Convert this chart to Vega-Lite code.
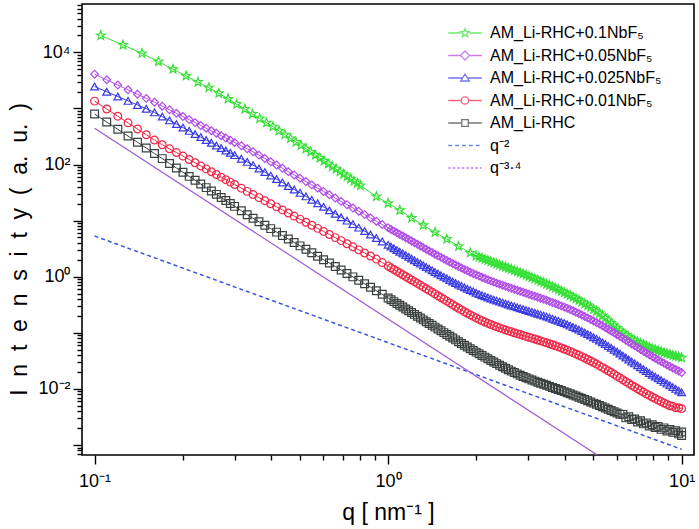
{
"$schema": "https://vega.github.io/schema/vega-lite/v6.json",
"width": 612, "height": 451,
"autosize": {"type": "none"},
"padding": {"left": 82, "top": 4, "right": 5, "bottom": 74},
"background": "white",
"config": {"view": {"stroke": "black", "strokeWidth": 1.6}, "font": "Liberation Sans"},
"datasets": {
"curves": [
{"s":"g","q":0.105,"I":19950},{"s":"g","q":0.125,"I":13490},{"s":"g","q":0.145,"I":9550},{"s":"g","q":0.165,"I":6839},{"s":"g","q":0.185,"I":5012},{"s":"g","q":0.205,"I":3802},{"s":"g","q":0.225,"I":2951},{"s":"g","q":0.245,"I":2344},{"s":"g","q":0.265,"I":1862},{"s":"g","q":0.285,"I":1479},{"s":"g","q":0.305,"I":1189},{"s":"g","q":0.325,"I":977.2},{"s":"g","q":0.345,"I":794.3},{"s":"g","q":0.365,"I":660.7},{"s":"g","q":0.385,"I":555.9},{"s":"g","q":0.405,"I":473.2},{"s":"g","q":0.425,"I":399.9},{"s":"g","q":0.445,"I":340.4},{"s":"g","q":0.465,"I":291.7},{"s":"g","q":0.485,"I":251.8},{"s":"g","q":0.505,"I":218.8},{"s":"g","q":0.525,"I":191.0},{"s":"g","q":0.545,"I":167.5},{"s":"g","q":0.565,"I":147.6},{"s":"g","q":0.585,"I":130.6},{"s":"g","q":0.605,"I":116.1},{"s":"g","q":0.625,"I":102.8},{"s":"g","q":0.645,"I":92.04},{"s":"g","q":0.665,"I":82.79},{"s":"g","q":0.685,"I":74.47},{"s":"g","q":0.705,"I":67.30},{"s":"g","q":0.725,"I":61.09},{"s":"g","q":0.745,"I":55.46},{"s":"g","q":0.765,"I":50.47},{"s":"g","q":0.785,"I":46.13},{"s":"g","q":0.805,"I":42.27},
{"s":"g","q":0.912,"I":26.92},{"s":"g","q":1.0,"I":20.42},{"s":"g","q":1.096,"I":15.31},{"s":"g","q":1.202,"I":11.19},{"s":"g","q":1.318,"I":8.279},{"s":"g","q":1.445,"I":6.166},{"s":"g","q":1.585,"I":4.677},{"s":"g","q":1.738,"I":3.491},{"s":"g","q":1.905,"I":2.661},
{"s":"g","q":1.995,"I":2.344},{"s":"g","q":2.042,"I":2.239},{"s":"g","q":2.089,"I":2.138},{"s":"g","q":2.138,"I":2.042},{"s":"g","q":2.188,"I":1.950},{"s":"g","q":2.239,"I":1.862},{"s":"g","q":2.291,"I":1.778},{"s":"g","q":2.344,"I":1.698},{"s":"g","q":2.399,"I":1.622},{"s":"g","q":2.455,"I":1.549},{"s":"g","q":2.512,"I":1.479},{"s":"g","q":2.570,"I":1.413},{"s":"g","q":2.630,"I":1.349},{"s":"g","q":2.692,"I":1.288},{"s":"g","q":2.754,"I":1.230},{"s":"g","q":2.818,"I":1.175},{"s":"g","q":2.884,"I":1.122},{"s":"g","q":2.951,"I":1.069},{"s":"g","q":3.020,"I":1.017},{"s":"g","q":3.090,"I":0.9672},{"s":"g","q":3.162,"I":0.9183},{"s":"g","q":3.236,"I":0.8710},{"s":"g","q":3.311,"I":0.8260},{"s":"g","q":3.388,"I":0.7825},{"s":"g","q":3.467,"I":0.7405},{"s":"g","q":3.548,"I":0.7006},{"s":"g","q":3.631,"I":0.6622},{"s":"g","q":3.715,"I":0.6252},{"s":"g","q":3.802,"I":0.5895},{"s":"g","q":3.890,"I":0.5553},{"s":"g","q":3.981,"I":0.5230},{"s":"g","q":4.074,"I":0.4915},{"s":"g","q":4.169,"I":0.4619},{"s":"g","q":4.266,"I":0.4330},{"s":"g","q":4.365,"I":0.4055},{"s":"g","q":4.467,"I":0.3793},{"s":"g","q":4.571,"I":0.3540},{"s":"g","q":4.677,"I":0.3296},{"s":"g","q":4.786,"I":0.3062},{"s":"g","q":4.898,"I":0.2838},{"s":"g","q":5.012,"I":0.2624},{"s":"g","q":5.129,"I":0.2415},{"s":"g","q":5.248,"I":0.2213},{"s":"g","q":5.370,"I":0.2018},{"s":"g","q":5.495,"I":0.1832},{"s":"g","q":5.623,"I":0.1658},{"s":"g","q":5.754,"I":0.1496},{"s":"g","q":5.888,"I":0.1351},{"s":"g","q":6.026,"I":0.1220},{"s":"g","q":6.166,"I":0.1105},{"s":"g","q":6.310,"I":0.1006},{"s":"g","q":6.457,"I":0.09194},{"s":"g","q":6.607,"I":0.08464},{"s":"g","q":6.761,"I":0.07845},{"s":"g","q":6.918,"I":0.07320},{"s":"g","q":7.079,"I":0.06863},{"s":"g","q":7.244,"I":0.06464},{"s":"g","q":7.413,"I":0.06109},{"s":"g","q":7.586,"I":0.05794},{"s":"g","q":7.762,"I":0.05508},{"s":"g","q":7.943,"I":0.05248},{"s":"g","q":8.128,"I":0.05012},{"s":"g","q":8.318,"I":0.04797},{"s":"g","q":8.511,"I":0.04603},{"s":"g","q":8.710,"I":0.04426},{"s":"g","q":8.913,"I":0.04266},{"s":"g","q":9.120,"I":0.04116},{"s":"g","q":9.333,"I":0.03977},{"s":"g","q":9.550,"I":0.03846},{"s":"g","q":9.772,"I":0.03724},{"s":"g","q":10.0,"I":0.03610},
{"s":"p","q":0.10,"I":4074},{"s":"p","q":0.11,"I":3228},{"s":"p","q":0.12,"I":2606},{"s":"p","q":0.13,"I":2143},{"s":"p","q":0.14,"I":1786},{"s":"p","q":0.15,"I":1510},{"s":"p","q":0.16,"I":1285},{"s":"p","q":0.17,"I":1096},{"s":"p","q":0.18,"I":944.1},{"s":"p","q":0.19,"I":818.5},{"s":"p","q":0.20,"I":716.1},{"s":"p","q":0.21,"I":631.0},{"s":"p","q":0.22,"I":558.5},{"s":"p","q":0.23,"I":496.6},{"s":"p","q":0.24,"I":444.6},{"s":"p","q":0.25,"I":399.0},{"s":"p","q":0.26,"I":360.6},{"s":"p","q":0.27,"I":326.6},{"s":"p","q":0.28,"I":296.5},{"s":"p","q":0.29,"I":270.4},{"s":"p","q":0.30,"I":247.7},
{"s":"p","q":0.3162,"I":215.8},{"s":"p","q":0.3311,"I":191.0},{"s":"p","q":0.3467,"I":168.3},{"s":"p","q":0.3631,"I":146.9},{"s":"p","q":0.3802,"I":128.2},{"s":"p","q":0.3981,"I":111.9},{"s":"p","q":0.4169,"I":97.95},{"s":"p","q":0.4365,"I":85.51},{"s":"p","q":0.4571,"I":74.64},{"s":"p","q":0.4786,"I":65.16},{"s":"p","q":0.5012,"I":56.89},{"s":"p","q":0.5248,"I":49.66},{"s":"p","q":0.5495,"I":43.35},{"s":"p","q":0.5754,"I":37.93},{"s":"p","q":0.6026,"I":33.11},{"s":"p","q":0.6310,"I":28.91},{"s":"p","q":0.6607,"I":25.23},{"s":"p","q":0.6918,"I":22.03},{"s":"p","q":0.7244,"I":19.23},{"s":"p","q":0.7586,"I":16.79},{"s":"p","q":0.7943,"I":14.69},{"s":"p","q":0.8318,"I":12.82},{"s":"p","q":0.8710,"I":11.19},{"s":"p","q":0.9120,"I":9.772},{"s":"p","q":0.9550,"I":8.531},
{"s":"p","q":1.0,"I":7.447},{"s":"p","q":1.023,"I":6.958},{"s":"p","q":1.047,"I":6.501},{"s":"p","q":1.072,"I":6.075},{"s":"p","q":1.096,"I":5.675},{"s":"p","q":1.122,"I":5.303},{"s":"p","q":1.148,"I":4.955},{"s":"p","q":1.175,"I":4.629},{"s":"p","q":1.202,"I":4.325},{"s":"p","q":1.230,"I":4.041},{"s":"p","q":1.259,"I":3.776},{"s":"p","q":1.288,"I":3.527},{"s":"p","q":1.318,"I":3.296},{"s":"p","q":1.349,"I":3.083},{"s":"p","q":1.380,"I":2.884},{"s":"p","q":1.413,"I":2.698},{"s":"p","q":1.445,"I":2.523},{"s":"p","q":1.479,"I":2.363},{"s":"p","q":1.514,"I":2.213},{"s":"p","q":1.549,"I":2.075},{"s":"p","q":1.585,"I":1.945},{"s":"p","q":1.622,"I":1.826},{"s":"p","q":1.660,"I":1.714},{"s":"p","q":1.698,"I":1.613},{"s":"p","q":1.738,"I":1.517},{"s":"p","q":1.778,"I":1.431},{"s":"p","q":1.820,"I":1.349},{"s":"p","q":1.862,"I":1.275},{"s":"p","q":1.905,"I":1.205},{"s":"p","q":1.950,"I":1.142},{"s":"p","q":1.995,"I":1.081},{"s":"p","q":2.042,"I":1.027},{"s":"p","q":2.089,"I":0.9750},{"s":"p","q":2.138,"I":0.9279},{"s":"p","q":2.188,"I":0.8831},{"s":"p","q":2.239,"I":0.8424},{"s":"p","q":2.291,"I":0.8035},{"s":"p","q":2.344,"I":0.7682},{"s":"p","q":2.399,"I":0.7345},{"s":"p","q":2.455,"I":0.7038},{"s":"p","q":2.512,"I":0.6745},{"s":"p","q":2.570,"I":0.6471},{"s":"p","q":2.630,"I":0.6209},{"s":"p","q":2.692,"I":0.5957},{"s":"p","q":2.754,"I":0.5715},{"s":"p","q":2.818,"I":0.5489},{"s":"p","q":2.884,"I":0.5272},{"s":"p","q":2.951,"I":0.5064},{"s":"p","q":3.020,"I":0.4864},{"s":"p","q":3.090,"I":0.4672},{"s":"p","q":3.162,"I":0.4487},{"s":"p","q":3.236,"I":0.4305},{"s":"p","q":3.311,"I":0.4130},{"s":"p","q":3.388,"I":0.3958},{"s":"p","q":3.467,"I":0.3793},{"s":"p","q":3.548,"I":0.3631},{"s":"p","q":3.631,"I":0.3475},{"s":"p","q":3.715,"I":0.3319},{"s":"p","q":3.802,"I":0.3170},{"s":"p","q":3.890,"I":0.3020},{"s":"p","q":3.981,"I":0.2877},{"s":"p","q":4.074,"I":0.2735},{"s":"p","q":4.169,"I":0.2600},{"s":"p","q":4.266,"I":0.2464},{"s":"p","q":4.365,"I":0.2333},{"s":"p","q":4.467,"I":0.2203},{"s":"p","q":4.571,"I":0.2080},{"s":"p","q":4.677,"I":0.1959},{"s":"p","q":4.786,"I":0.1845},{"s":"p","q":4.898,"I":0.1734},{"s":"p","q":5.012,"I":0.1629},{"s":"p","q":5.129,"I":0.1526},{"s":"p","q":5.248,"I":0.1429},{"s":"p","q":5.370,"I":0.1334},{"s":"p","q":5.495,"I":0.1245},{"s":"p","q":5.623,"I":0.1157},{"s":"p","q":5.754,"I":0.1076},{"s":"p","q":5.888,"I":0.09988},{"s":"p","q":6.026,"I":0.09268},{"s":"p","q":6.166,"I":0.08590},{"s":"p","q":6.310,"I":0.07962},{"s":"p","q":6.457,"I":0.07379},{"s":"p","q":6.607,"I":0.06839},{"s":"p","q":6.761,"I":0.06339},{"s":"p","q":6.918,"I":0.05875},{"s":"p","q":7.079,"I":0.05451},{"s":"p","q":7.244,"I":0.05058},{"s":"p","q":7.413,"I":0.04699},{"s":"p","q":7.586,"I":0.04365},{"s":"p","q":7.762,"I":0.04060},{"s":"p","q":7.943,"I":0.03776},{"s":"p","q":8.128,"I":0.03519},{"s":"p","q":8.318,"I":0.03281},{"s":"p","q":8.511,"I":0.03066},{"s":"p","q":8.710,"I":0.02864},{"s":"p","q":8.913,"I":0.02682},{"s":"p","q":9.120,"I":0.02512},{"s":"p","q":9.333,"I":0.02358},{"s":"p","q":9.550,"I":0.02213},{"s":"p","q":9.772,"I":0.02082},{"s":"p","q":10.0,"I":0.01959},
{"s":"b","q":0.10,"I":2455},{"s":"b","q":0.11,"I":1982},{"s":"b","q":0.12,"I":1629},{"s":"b","q":0.13,"I":1361},{"s":"b","q":0.14,"I":1151},{"s":"b","q":0.15,"I":986.3},{"s":"b","q":0.16,"I":849.2},{"s":"b","q":0.17,"I":716.1},{"s":"b","q":0.18,"I":610.9},{"s":"b","q":0.19,"I":524.8},{"s":"b","q":0.20,"I":455.0},{"s":"b","q":0.21,"I":397.2},{"s":"b","q":0.22,"I":349.1},{"s":"b","q":0.23,"I":308.3},{"s":"b","q":0.24,"I":273.5},{"s":"b","q":0.25,"I":244.3},{"s":"b","q":0.26,"I":218.8},{"s":"b","q":0.27,"I":196.8},{"s":"b","q":0.28,"I":177.8},{"s":"b","q":0.29,"I":161.4},{"s":"b","q":0.30,"I":146.9},
{"s":"b","q":0.3162,"I":126.8},{"s":"b","q":0.3311,"I":111.4},{"s":"b","q":0.3467,"I":97.50},{"s":"b","q":0.3631,"I":84.53},{"s":"b","q":0.3802,"I":73.28},{"s":"b","q":0.3981,"I":63.53},{"s":"b","q":0.4169,"I":55.08},{"s":"b","q":0.4365,"I":47.75},{"s":"b","q":0.4571,"I":41.40},{"s":"b","q":0.4786,"I":35.89},{"s":"b","q":0.5012,"I":31.19},{"s":"b","q":0.5248,"I":27.04},{"s":"b","q":0.5495,"I":23.44},{"s":"b","q":0.5754,"I":20.32},{"s":"b","q":0.6026,"I":17.62},{"s":"b","q":0.6310,"I":15.28},{"s":"b","q":0.6607,"I":13.24},{"s":"b","q":0.6918,"I":11.48},{"s":"b","q":0.7244,"I":9.977},{"s":"b","q":0.7586,"I":8.650},{"s":"b","q":0.7943,"I":7.499},{"s":"b","q":0.8318,"I":6.501},{"s":"b","q":0.8710,"I":5.649},{"s":"b","q":0.9120,"I":4.898},{"s":"b","q":0.9550,"I":4.256},
{"s":"b","q":1.0,"I":3.698},{"s":"b","q":1.023,"I":3.447},{"s":"b","q":1.047,"I":3.214},{"s":"b","q":1.072,"I":2.996},{"s":"b","q":1.096,"I":2.793},{"s":"b","q":1.122,"I":2.603},{"s":"b","q":1.148,"I":2.427},{"s":"b","q":1.175,"I":2.262},{"s":"b","q":1.202,"I":2.109},{"s":"b","q":1.230,"I":1.966},{"s":"b","q":1.259,"I":1.832},{"s":"b","q":1.288,"I":1.710},{"s":"b","q":1.318,"I":1.596},{"s":"b","q":1.349,"I":1.491},{"s":"b","q":1.380,"I":1.393},{"s":"b","q":1.413,"I":1.301},{"s":"b","q":1.445,"I":1.216},{"s":"b","q":1.479,"I":1.138},{"s":"b","q":1.514,"I":1.064},{"s":"b","q":1.549,"I":0.9966},{"s":"b","q":1.585,"I":0.9333},{"s":"b","q":1.622,"I":0.8761},{"s":"b","q":1.660,"I":0.8222},{"s":"b","q":1.698,"I":0.7735},{"s":"b","q":1.738,"I":0.7278},{"s":"b","q":1.778,"I":0.6863},{"s":"b","q":1.820,"I":0.6471},{"s":"b","q":1.862,"I":0.6117},{"s":"b","q":1.905,"I":0.5781},{"s":"b","q":1.950,"I":0.5476},{"s":"b","q":1.995,"I":0.5188},{"s":"b","q":2.042,"I":0.4932},{"s":"b","q":2.089,"I":0.4688},{"s":"b","q":2.138,"I":0.4472},{"s":"b","q":2.188,"I":0.4266},{"s":"b","q":2.239,"I":0.4083},{"s":"b","q":2.291,"I":0.3908},{"s":"b","q":2.344,"I":0.3750},{"s":"b","q":2.399,"I":0.3597},{"s":"b","q":2.455,"I":0.3456},{"s":"b","q":2.512,"I":0.3319},{"s":"b","q":2.570,"I":0.3196},{"s":"b","q":2.630,"I":0.3076},{"s":"b","q":2.692,"I":0.2961},{"s":"b","q":2.754,"I":0.2851},{"s":"b","q":2.818,"I":0.2748},{"s":"b","q":2.884,"I":0.2649},{"s":"b","q":2.951,"I":0.2550},{"s":"b","q":3.020,"I":0.2455},{"s":"b","q":3.090,"I":0.2366},{"s":"b","q":3.162,"I":0.2280},{"s":"b","q":3.236,"I":0.2193},{"s":"b","q":3.311,"I":0.2109},{"s":"b","q":3.388,"I":0.2026},{"s":"b","q":3.467,"I":0.1945},{"s":"b","q":3.548,"I":0.1864},{"s":"b","q":3.631,"I":0.1786},{"s":"b","q":3.715,"I":0.1708},{"s":"b","q":3.802,"I":0.1633},{"s":"b","q":3.890,"I":0.1558},{"s":"b","q":3.981,"I":0.1486},{"s":"b","q":4.074,"I":0.1413},{"s":"b","q":4.169,"I":0.1343},{"s":"b","q":4.266,"I":0.1272},{"s":"b","q":4.365,"I":0.1205},{"s":"b","q":4.467,"I":0.1138},{"s":"b","q":4.571,"I":0.1074},{"s":"b","q":4.677,"I":0.1010},{"s":"b","q":4.786,"I":0.09506},{"s":"b","q":4.898,"I":0.08913},{"s":"b","q":5.012,"I":0.08356},{"s":"b","q":5.129,"I":0.07798},{"s":"b","q":5.248,"I":0.07278},{"s":"b","q":5.370,"I":0.06769},{"s":"b","q":5.495,"I":0.06295},{"s":"b","q":5.623,"I":0.05834},{"s":"b","q":5.754,"I":0.05408},{"s":"b","q":5.888,"I":0.05000},{"s":"b","q":6.026,"I":0.04624},{"s":"b","q":6.166,"I":0.04266},{"s":"b","q":6.310,"I":0.03936},{"s":"b","q":6.457,"I":0.03631},{"s":"b","q":6.607,"I":0.03350},{"s":"b","q":6.761,"I":0.03090},{"s":"b","q":6.918,"I":0.02851},{"s":"b","q":7.079,"I":0.02633},{"s":"b","q":7.244,"I":0.02432},{"s":"b","q":7.413,"I":0.02249},{"s":"b","q":7.586,"I":0.02080},{"s":"b","q":7.762,"I":0.01928},{"s":"b","q":7.943,"I":0.01786},{"s":"b","q":8.128,"I":0.01660},{"s":"b","q":8.318,"I":0.01542},{"s":"b","q":8.511,"I":0.01434},{"s":"b","q":8.710,"I":0.01334},{"s":"b","q":8.913,"I":0.01242},{"s":"b","q":9.120,"I":0.01156},{"s":"b","q":9.333,"I":0.01076},{"s":"b","q":9.550,"I":0.01002},{"s":"b","q":9.772,"I":0.009344},{"s":"b","q":10.0,"I":0.008710},
{"s":"r","q":0.10,"I":1349},{"s":"r","q":0.11,"I":975.0},{"s":"r","q":0.12,"I":726.1},{"s":"r","q":0.13,"I":553.4},{"s":"r","q":0.14,"I":429.5},{"s":"r","q":0.15,"I":339.6},{"s":"r","q":0.16,"I":272.9},{"s":"r","q":0.17,"I":224.9},{"s":"r","q":0.18,"I":190.5},{"s":"r","q":0.19,"I":163.3},{"s":"r","q":0.20,"I":141.3},{"s":"r","q":0.21,"I":122.7},{"s":"r","q":0.22,"I":107.4},{"s":"r","q":0.23,"I":94.41},{"s":"r","q":0.24,"I":83.56},{"s":"r","q":0.25,"I":74.30},{"s":"r","q":0.26,"I":66.37},{"s":"r","q":0.27,"I":59.57},{"s":"r","q":0.28,"I":53.70},{"s":"r","q":0.29,"I":48.53},{"s":"r","q":0.30,"I":44.06},
{"s":"r","q":0.3162,"I":37.84},{"s":"r","q":0.3311,"I":33.19},{"s":"r","q":0.3467,"I":29.17},{"s":"r","q":0.3631,"I":25.70},{"s":"r","q":0.3802,"I":22.65},{"s":"r","q":0.3981,"I":19.95},{"s":"r","q":0.4169,"I":17.58},{"s":"r","q":0.4365,"I":15.52},{"s":"r","q":0.4571,"I":13.68},{"s":"r","q":0.4786,"I":12.05},{"s":"r","q":0.5012,"I":10.62},{"s":"r","q":0.5248,"I":9.354},{"s":"r","q":0.5495,"I":8.260},{"s":"r","q":0.5754,"I":7.278},{"s":"r","q":0.6026,"I":6.412},{"s":"r","q":0.6310,"I":5.649},{"s":"r","q":0.6607,"I":4.977},{"s":"r","q":0.6918,"I":4.395},{"s":"r","q":0.7244,"I":3.873},{"s":"r","q":0.7586,"I":3.412},{"s":"r","q":0.7943,"I":3.006},{"s":"r","q":0.8318,"I":2.649},{"s":"r","q":0.8710,"I":2.339},{"s":"r","q":0.9120,"I":2.061},{"s":"r","q":0.9550,"I":1.786},
{"s":"r","q":1.0,"I":1.549},{"s":"r","q":1.023,"I":1.442},{"s":"r","q":1.047,"I":1.343},{"s":"r","q":1.072,"I":1.250},{"s":"r","q":1.096,"I":1.164},{"s":"r","q":1.122,"I":1.084},{"s":"r","q":1.148,"I":1.009},{"s":"r","q":1.175,"I":0.9397},{"s":"r","q":1.202,"I":0.8750},{"s":"r","q":1.230,"I":0.8147},{"s":"r","q":1.259,"I":0.7586},{"s":"r","q":1.288,"I":0.7063},{"s":"r","q":1.318,"I":0.6577},{"s":"r","q":1.349,"I":0.6124},{"s":"r","q":1.380,"I":0.5702},{"s":"r","q":1.413,"I":0.5303},{"s":"r","q":1.445,"I":0.4932},{"s":"r","q":1.479,"I":0.4581},{"s":"r","q":1.514,"I":0.4256},{"s":"r","q":1.549,"I":0.3954},{"s":"r","q":1.585,"I":0.3673},{"s":"r","q":1.622,"I":0.3412},{"s":"r","q":1.660,"I":0.3170},{"s":"r","q":1.698,"I":0.2948},{"s":"r","q":1.738,"I":0.2742},{"s":"r","q":1.778,"I":0.2556},{"s":"r","q":1.820,"I":0.2382},{"s":"r","q":1.862,"I":0.2228},{"s":"r","q":1.905,"I":0.2084},{"s":"r","q":1.950,"I":0.1959},{"s":"r","q":1.995,"I":0.1841},{"s":"r","q":2.042,"I":0.1738},{"s":"r","q":2.089,"I":0.1641},{"s":"r","q":2.138,"I":0.1556},{"s":"r","q":2.188,"I":0.1476},{"s":"r","q":2.239,"I":0.1406},{"s":"r","q":2.291,"I":0.1340},{"s":"r","q":2.344,"I":0.1281},{"s":"r","q":2.399,"I":0.1225},{"s":"r","q":2.455,"I":0.1175},{"s":"r","q":2.512,"I":0.1127},{"s":"r","q":2.570,"I":0.1084},{"s":"r","q":2.630,"I":0.1042},{"s":"r","q":2.692,"I":0.1003},{"s":"r","q":2.754,"I":0.09661},{"s":"r","q":2.818,"I":0.09311},{"s":"r","q":2.884,"I":0.08974},{"s":"r","q":2.951,"I":0.08650},{"s":"r","q":3.020,"I":0.08337},{"s":"r","q":3.090,"I":0.08035},{"s":"r","q":3.162,"I":0.07745},{"s":"r","q":3.236,"I":0.07455},{"s":"r","q":3.311,"I":0.07178},{"s":"r","q":3.388,"I":0.06902},{"s":"r","q":3.467,"I":0.06637},{"s":"r","q":3.548,"I":0.06376},{"s":"r","q":3.631,"I":0.06124},{"s":"r","q":3.715,"I":0.05868},{"s":"r","q":3.802,"I":0.05623},{"s":"r","q":3.890,"I":0.05377},{"s":"r","q":3.981,"I":0.05140},{"s":"r","q":4.074,"I":0.04898},{"s":"r","q":4.169,"I":0.04667},{"s":"r","q":4.266,"I":0.04431},{"s":"r","q":4.365,"I":0.04207},{"s":"r","q":4.467,"I":0.03981},{"s":"r","q":4.571,"I":0.03767},{"s":"r","q":4.677,"I":0.03552},{"s":"r","q":4.786,"I":0.03350},{"s":"r","q":4.898,"I":0.03148},{"s":"r","q":5.012,"I":0.02958},{"s":"r","q":5.129,"I":0.02770},{"s":"r","q":5.248,"I":0.02594},{"s":"r","q":5.370,"I":0.02421},{"s":"r","q":5.495,"I":0.02259},{"s":"r","q":5.623,"I":0.02104},{"s":"r","q":5.754,"I":0.01959},{"s":"r","q":5.888,"I":0.01820},{"s":"r","q":6.026,"I":0.01690},{"s":"r","q":6.166,"I":0.01569},{"s":"r","q":6.310,"I":0.01455},{"s":"r","q":6.457,"I":0.01351},{"s":"r","q":6.607,"I":0.01253},{"s":"r","q":6.761,"I":0.01164},{"s":"r","q":6.918,"I":0.01081},{"s":"r","q":7.079,"I":0.01007},{"s":"r","q":7.244,"I":0.009376},{"s":"r","q":7.413,"I":0.008750},{"s":"r","q":7.586,"I":0.008166},{"s":"r","q":7.762,"I":0.007648},{"s":"r","q":7.943,"I":0.007161},{"s":"r","q":8.128,"I":0.006730},{"s":"r","q":8.318,"I":0.006324},{"s":"r","q":8.511,"I":0.005957},{"s":"r","q":8.710,"I":0.005610},{"s":"r","q":8.913,"I":0.005297},{"s":"r","q":9.120,"I":0.005000},{"s":"r","q":9.333,"I":0.004900},{"s":"r","q":9.550,"I":0.004600},{"s":"r","q":9.772,"I":0.004620},{"s":"r","q":10.0,"I":0.004450},
{"s":"k","q":0.10,"I":794.3},{"s":"k","q":0.11,"I":571.5},{"s":"k","q":0.12,"I":423.6},{"s":"k","q":0.13,"I":321.4},{"s":"k","q":0.14,"I":248.9},{"s":"k","q":0.15,"I":196.3},{"s":"k","q":0.16,"I":157.0},{"s":"k","q":0.17,"I":127.4},{"s":"k","q":0.18,"I":104.5},{"s":"k","q":0.19,"I":86.70},{"s":"k","q":0.20,"I":72.78},{"s":"k","q":0.21,"I":61.38},{"s":"k","q":0.22,"I":52.36},{"s":"k","q":0.23,"I":44.87},{"s":"k","q":0.24,"I":38.73},{"s":"k","q":0.25,"I":33.65},{"s":"k","q":0.26,"I":29.38},{"s":"k","q":0.27,"I":25.82},{"s":"k","q":0.28,"I":22.75},{"s":"k","q":0.29,"I":20.18},{"s":"k","q":0.30,"I":17.95},
{"s":"k","q":0.3162,"I":14.96},{"s":"k","q":0.3311,"I":12.76},{"s":"k","q":0.3467,"I":10.99},{"s":"k","q":0.3631,"I":9.528},{"s":"k","q":0.3802,"I":8.279},{"s":"k","q":0.3981,"I":7.194},{"s":"k","q":0.4169,"I":6.237},{"s":"k","q":0.4365,"I":5.420},{"s":"k","q":0.4571,"I":4.699},{"s":"k","q":0.4786,"I":4.083},{"s":"k","q":0.5012,"I":3.548},{"s":"k","q":0.5248,"I":3.076},{"s":"k","q":0.5495,"I":2.673},{"s":"k","q":0.5754,"I":2.317},{"s":"k","q":0.6026,"I":2.014},{"s":"k","q":0.6310,"I":1.750},{"s":"k","q":0.6607,"I":1.517},{"s":"k","q":0.6918,"I":1.318},{"s":"k","q":0.7244,"I":1.143},{"s":"k","q":0.7586,"I":0.9931},{"s":"k","q":0.7943,"I":0.8630},{"s":"k","q":0.8318,"I":0.7482},{"s":"k","q":0.8710,"I":0.6501},{"s":"k","q":0.9120,"I":0.5636},{"s":"k","q":0.9550,"I":0.4853},
{"s":"k","q":1.0,"I":0.4178},{"s":"k","q":1.023,"I":0.3877},{"s":"k","q":1.047,"I":0.3597},{"s":"k","q":1.072,"I":0.3338},{"s":"k","q":1.096,"I":0.3097},{"s":"k","q":1.122,"I":0.2874},{"s":"k","q":1.148,"I":0.2667},{"s":"k","q":1.175,"I":0.2475},{"s":"k","q":1.202,"I":0.2296},{"s":"k","q":1.230,"I":0.2131},{"s":"k","q":1.259,"I":0.1977},{"s":"k","q":1.288,"I":0.1834},{"s":"k","q":1.318,"I":0.1702},{"s":"k","q":1.349,"I":0.1579},{"s":"k","q":1.380,"I":0.1466},{"s":"k","q":1.413,"I":0.1360},{"s":"k","q":1.445,"I":0.1262},{"s":"k","q":1.479,"I":0.1171},{"s":"k","q":1.514,"I":0.1086},{"s":"k","q":1.549,"I":0.1008},{"s":"k","q":1.585,"I":0.09354},{"s":"k","q":1.622,"I":0.08680},{"s":"k","q":1.660,"I":0.08054},{"s":"k","q":1.698,"I":0.07482},{"s":"k","q":1.738,"I":0.06950},{"s":"k","q":1.778,"I":0.06464},{"s":"k","q":1.820,"I":0.06012},{"s":"k","q":1.862,"I":0.05598},{"s":"k","q":1.905,"I":0.05212},{"s":"k","q":1.950,"I":0.04859},{"s":"k","q":1.995,"I":0.04529},{"s":"k","q":2.042,"I":0.04227},{"s":"k","q":2.089,"I":0.03945},{"s":"k","q":2.138,"I":0.03686},{"s":"k","q":2.188,"I":0.03443},{"s":"k","q":2.239,"I":0.03221},{"s":"k","q":2.291,"I":0.03013},{"s":"k","q":2.344,"I":0.02825},{"s":"k","q":2.399,"I":0.02649},{"s":"k","q":2.455,"I":0.02489},{"s":"k","q":2.512,"I":0.02339},{"s":"k","q":2.570,"I":0.02203},{"s":"k","q":2.630,"I":0.02075},{"s":"k","q":2.692,"I":0.01961},{"s":"k","q":2.754,"I":0.01854},{"s":"k","q":2.818,"I":0.01758},{"s":"k","q":2.884,"I":0.01667},{"s":"k","q":2.951,"I":0.01587},{"s":"k","q":3.020,"I":0.01510},{"s":"k","q":3.090,"I":0.01442},{"s":"k","q":3.162,"I":0.01377},{"s":"k","q":3.236,"I":0.01318},{"s":"k","q":3.311,"I":0.01262},{"s":"k","q":3.388,"I":0.01209},{"s":"k","q":3.467,"I":0.01159},{"s":"k","q":3.548,"I":0.01110},{"s":"k","q":3.631,"I":0.01064},{"s":"k","q":3.715,"I":0.01020},{"s":"k","q":3.802,"I":0.009772},{"s":"k","q":3.890,"I":0.009354},{"s":"k","q":3.981,"I":0.008954},{"s":"k","q":4.074,"I":0.008561},{"s":"k","q":4.169,"I":0.008185},{"s":"k","q":4.266,"I":0.007816},{"s":"k","q":4.365,"I":0.007464},{"s":"k","q":4.467,"I":0.007120},{"s":"k","q":4.571,"I":0.006792},{"s":"k","q":4.677,"I":0.006471},{"s":"k","q":4.786,"I":0.006166},{"s":"k","q":4.898,"I":0.005868},{"s":"k","q":5.012,"I":0.005585},{"s":"k","q":5.129,"I":0.005309},{"s":"k","q":5.248,"I":0.005047},{"s":"k","q":5.370,"I":0.004797},{"s":"k","q":5.495,"I":0.004560},{"s":"k","q":5.623,"I":0.004335},{"s":"k","q":5.754,"I":0.004121},{"s":"k","q":5.888,"I":0.003917},{"s":"k","q":6.026,"I":0.003724},{"s":"k","q":6.166,"I":0.003544},{"s":"k","q":6.310,"I":0.00352},{"s":"k","q":6.457,"I":0.00305},{"s":"k","q":6.607,"I":0.00318},{"s":"k","q":6.761,"I":0.00285},{"s":"k","q":6.918,"I":0.00290},{"s":"k","q":7.079,"I":0.00258},{"s":"k","q":7.244,"I":0.00270},{"s":"k","q":7.413,"I":0.00238},{"s":"k","q":7.586,"I":0.00248},{"s":"k","q":7.762,"I":0.00218},{"s":"k","q":7.943,"I":0.00230},{"s":"k","q":8.128,"I":0.00205},{"s":"k","q":8.318,"I":0.00215},{"s":"k","q":8.511,"I":0.00190},{"s":"k","q":8.710,"I":0.00202},{"s":"k","q":8.913,"I":0.00178},{"s":"k","q":9.120,"I":0.00190},{"s":"k","q":9.333,"I":0.00168},{"s":"k","q":9.550,"I":0.00180},{"s":"k","q":9.772,"I":0.00158},{"s":"k","q":10.0,"I":0.00170},{"s":"k","q":10.0,"I":0.00148}
],
"guides": [
{"s":"l2","q":0.1,"I":5.31},{"s":"l2","q":10,"I":0.00084},
{"s":"l34","q":0.1,"I":442},{"s":"l34","q":10,"I":0.00007}
]
},
"layer": [
{
"data": {"name": "curves"},
"mark": {"type": "line", "strokeWidth": 1, "clip": true},
"encoding": {
"x": {"field": "q", "type": "quantitative",
 "scale": {"type": "log", "domain": [0.0906, 11.02], "nice": false},
 "axis": {
  "values": [0.1,0.2,0.3,0.4,0.5,0.6,0.7,0.8,0.9,1,2,3,4,5,6,7,8,9,10],
  "labelExpr": "datum.value == 0.1 ? '10⁻¹' : datum.value == 1 ? '10⁰' : datum.value == 10 ? '10¹' : ''",
  "tickSize": {"condition": {"test": "datum.value == 0.1 || datum.value == 1 || datum.value == 10", "value": 9}, "value": 5},
  "domain": false, "grid": false, "tickColor": "black", "tickWidth": 1.4,
  "labelFont": "Liberation Sans", "labelFontSize": 18, "labelColor": "black", "labelPadding": 8,
  "labelFlush": false, "labelOverlap": false, "labelBound": false,
  "title": "q [ nm⁻¹ ]", "titleFont": "Liberation Sans", "titleFontSize": 23, "titleFontWeight": "normal", "titleColor": "black", "titlePadding": 11
 }},
"y": {"field": "I", "type": "quantitative",
 "scale": {"type": "log", "domain": [0.000664, 72600], "nice": false},
 "axis": {
  "values": [0.0007,0.0008,0.0009,0.001,0.002,0.003,0.004,0.005,0.006,0.007,0.008,0.009,0.01,0.02,0.03,0.04,0.05,0.06,0.07,0.08,0.09,0.1,0.2,0.3,0.4,0.5,0.6,0.7,0.8,0.9,1,2,3,4,5,6,7,8,9,10,20,30,40,50,60,70,80,90,100,200,300,400,500,600,700,800,900,1000,2000,3000,4000,5000,6000,7000,8000,9000,10000,20000,30000,40000,50000,60000,70000],
  "labelExpr": "datum.value == 0.01 ? '10⁻²' : datum.value == 1 ? '10⁰' : datum.value == 100 ? '10²' : datum.value == 10000 ? '10⁴' : ''",
  "tickSize": {"condition": {"test": "indexof([0.001,0.01,0.1,1,10,100,1000,10000], datum.value) >= 0", "value": 9}, "value": 5},
  "domain": false, "grid": false, "tickColor": "black", "tickWidth": 1.4,
  "labelFont": "Liberation Sans", "labelFontSize": 18, "labelColor": "black", "labelPadding": 3,
  "labelOverlap": false, "labelBound": false, "labelFlush": false,
  "title": "I\u00a0\u00a0n\u00a0\u00a0t\u00a0\u00a0e\u00a0\u00a0n\u00a0\u00a0s\u00a0\u00a0i\u00a0\u00a0t\u00a0\u00a0y\u00a0\u00a0(\u00a0\u00a0a.\u00a0\u00a0u.\u00a0\u00a0)",
  "titleFont": "Liberation Sans", "titleFontSize": 23, "titleFontWeight": "normal", "titleColor": "black", "titlePadding": 6, "titleY": 245
 }},
"color": {"field": "s", "type": "nominal", "legend": null,
 "scale": {"domain": ["g","p","b","r","k"], "range": ["#33e033","#b04ae6","#3a3ae6","#f02848","#3a403f"]}},
"detail": {"field": "s"}
}
},
{
"data": {"name": "curves"},
"mark": {"type": "point", "filled": false, "size": 60, "strokeWidth": 1.2, "opacity": 1, "clip": true},
"encoding": {
"x": {"field": "q", "type": "quantitative", "scale": {"type": "log", "domain": [0.0906, 11.02], "nice": false}},
"y": {"field": "I", "type": "quantitative", "scale": {"type": "log", "domain": [0.000664, 72600], "nice": false}},
"color": {"field": "s", "type": "nominal", "legend": null,
 "scale": {"domain": ["g","p","b","r","k"], "range": ["#33e033","#b04ae6","#3a3ae6","#f02848","#3a403f"]}},
"shape": {"field": "s", "type": "nominal", "legend": null,
 "scale": {"domain": ["g","p","b","r","k"], "range": ["M0,-1.2L0.294,-0.405L1.141,-0.371L0.476,0.155L0.705,0.971L0,0.5L-0.705,0.971L-0.476,0.155L-1.141,-0.371L-0.294,-0.405Z","diamond","triangle-up","circle","square"]}}
}
},
{
"data": {"name": "guides"},
"transform": [{"filter": "datum.s == 'l2'"}],
"mark": {"type": "line", "color": "#3a55dd", "strokeWidth": 1.5, "strokeDash": [4, 3], "clip": true},
"encoding": {
"x": {"field": "q", "type": "quantitative", "scale": {"type": "log", "domain": [0.0906, 11.02], "nice": false}},
"y": {"field": "I", "type": "quantitative", "scale": {"type": "log", "domain": [0.000664, 72600], "nice": false}}
}
},
{
"data": {"name": "guides"},
"transform": [{"filter": "datum.s == 'l34'"}],
"mark": {"type": "line", "color": "#9a5ad6", "strokeWidth": 1.2, "clip": true},
"encoding": {
"x": {"field": "q", "type": "quantitative", "scale": {"type": "log", "domain": [0.0906, 11.02], "nice": false}},
"y": {"field": "I", "type": "quantitative", "scale": {"type": "log", "domain": [0.000664, 72600], "nice": false}}
}
},
{
"data": {"name": "guides"},
"transform": [{"filter": "datum.q < 0"}],
"mark": {"type": "point", "filled": false},
"encoding": {
"color": {"field": "s", "type": "nominal",
 "scale": {"domain": ["g","p","b","r","k","l2","l34"], "range": ["#33e033","#b04ae6","#3a3ae6","#f02848","#3a403f","#3a55dd","#9a5ad6"]},
 "legend": {"orient": "none", "legendX": 375, "legendY": 21, "title": null, "symbolSize": 144, "symbolStrokeWidth": 1.3, "labelFont": "Liberation Sans", "labelFontSize": 16, "labelColor": "black", "labelOffset": 17, "rowPadding": 6.5, "labelLimit": 0,
  "labelExpr": "datum.value == 'g' ? 'AM_Li-RHC+0.1NbF₅' : datum.value == 'p' ? 'AM_Li-RHC+0.05NbF₅' : datum.value == 'b' ? 'AM_Li-RHC+0.025NbF₅' : datum.value == 'r' ? 'AM_Li-RHC+0.01NbF₅' : datum.value == 'k' ? 'AM_Li-RHC' : datum.value == 'l2' ? 'q⁻²' : 'q⁻³·⁴'"}},
"shape": {"field": "s", "type": "nominal",
 "scale": {"domain": ["g","p","b","r","k","l2","l34"], "range": [
  "M-2.8,0H-0.72M0.72,0H2.8M0,-0.75L0.184,-0.253L0.713,-0.232L0.298,0.097L0.441,0.607L0,0.313L-0.441,0.607L-0.298,0.097L-0.713,-0.232L-0.184,-0.253Z",
  "M-2.8,0H-0.75M0.75,0H2.8M0,-0.75L0.75,0L0,0.75L-0.75,0Z",
  "M-2.8,0H-0.41M0.41,0H2.8M0,-0.65L0.72,0.5L-0.72,0.5Z",
  "M-2.8,0H-0.62M0.62,0H2.8M0.62,0A0.62,0.62,0,1,1,-0.62,0A0.62,0.62,0,1,1,0.62,0Z",
  "M-2.8,0H-0.55M0.55,0H2.8M-0.55,-0.55H0.55V0.55H-0.55Z",
  "M-2.8,0H-2.15M-1.65,0H-1M-0.5,0H0.15M0.65,0H1.3M1.8,0H2.45",
  "M-2.8,0H-2.35M-2.05,0H-1.6M-1.3,0H-0.85M-0.55,0H-0.1M0.2,0H0.65M0.95,0H1.4M1.7,0H2.15M2.45,0H2.8"]},
 "legend": {"orient": "none", "legendX": 375, "legendY": 21, "title": null, "symbolSize": 144, "symbolStrokeWidth": 1.3, "labelFont": "Liberation Sans", "labelFontSize": 16, "labelColor": "black", "labelOffset": 17, "rowPadding": 6.5, "labelLimit": 0,
  "labelExpr": "datum.value == 'g' ? 'AM_Li-RHC+0.1NbF₅' : datum.value == 'p' ? 'AM_Li-RHC+0.05NbF₅' : datum.value == 'b' ? 'AM_Li-RHC+0.025NbF₅' : datum.value == 'r' ? 'AM_Li-RHC+0.01NbF₅' : datum.value == 'k' ? 'AM_Li-RHC' : datum.value == 'l2' ? 'q⁻²' : 'q⁻³·⁴'"}}
}
}
],
"resolve": {"scale": {"color": "independent", "shape": "independent"}}
}
